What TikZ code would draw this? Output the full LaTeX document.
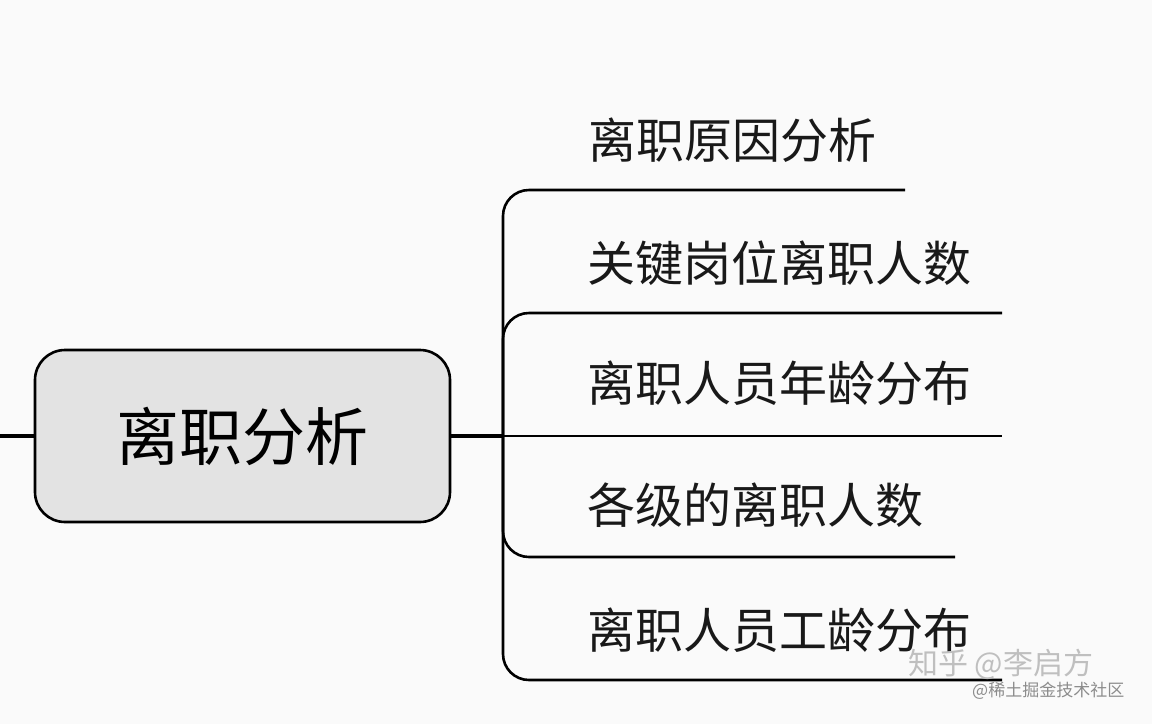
\documentclass[tikz,border=0pt]{standalone}
\usepackage{fontspec}
\newfontfamily\cjk{Noto Sans CJK SC}
\begin{document}
\begin{tikzpicture}[x=1pt,y=-1pt,
  item/.style={anchor=west,font=\cjk\fontsize{48}{52}\selectfont,inner sep=0pt,text=black!90},
  branch/.style={line width=2.6pt,rounded corners=26pt},
  root/.style={draw,line width=2.6pt,rounded corners=30pt,fill=black!11,minimum width=415pt,minimum height=172pt,font=\cjk\fontsize{63}{68}\selectfont}]
\fill[black!2] (0,0) rectangle (1152,724);
\useasboundingbox (0,0) rectangle (1152,724);
\node[root] (r) at (242.5,436) {离职分析};
\coordinate (l0) at (0,436);
\draw[line width=4.5pt] (l0) -- (r.west);
\coordinate (t) at (503,436);
\draw[line width=4.5pt] (r.east) -- (t);
% items
\node[item] (a) at (588,140) {离职原因分析};
\node[item] (b) at (587,263) {关键岗位离职人数};
\node[item] (c) at (587,383) {离职人员年龄分布};
\node[item] (d) at (587,505) {各级的离职人数};
\node[item] (e) at (587,630) {离职人员工龄分布};
\coordinate (ae) at (905,190);
\coordinate (be) at (1002,313);
\coordinate (ce) at (1002,436);
\coordinate (de) at (955,557);
\coordinate (ee) at (1002,680);
\draw[branch] (t) -- (t |- ae) -- (ae);
\draw[branch] (t) -- (t |- be) -- (be);
\draw[branch] (t) -- (ce);
\draw[branch] (t) -- (t |- de) -- (de);
\draw[branch] (t) -- (t |- ee) -- (ee);
% watermark
\node[anchor=west,font=\cjk\fontsize{30}{34}\selectfont,text=black!25,inner sep=0pt] (w1) at (908,664) {知乎 @李启方};
\node[anchor=west,font=\cjk\fontsize{17}{20}\selectfont,text=black!45,inner sep=0pt] (w2) at (972,691) {@稀土掘金技术社区};
\end{tikzpicture}
\end{document}
